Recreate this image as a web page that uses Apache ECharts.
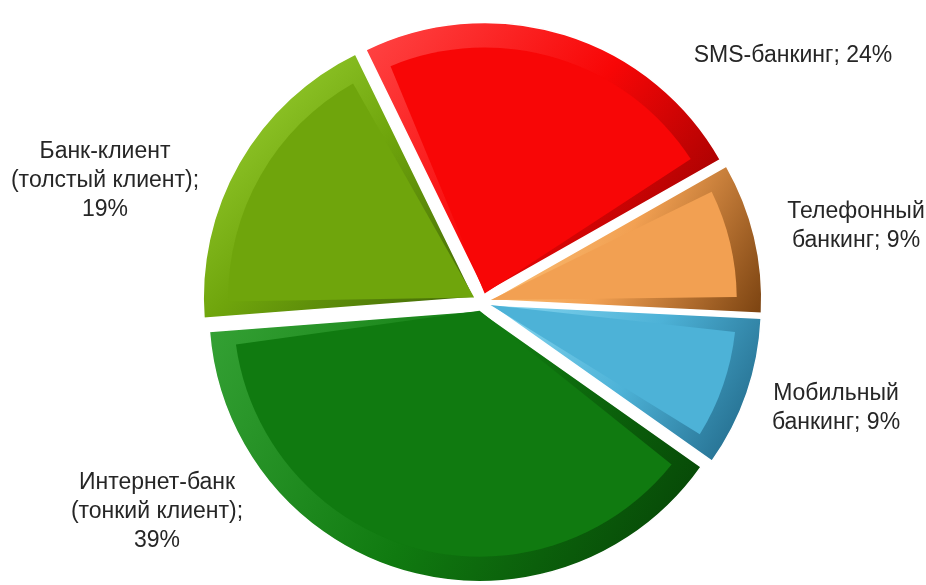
<!DOCTYPE html>
<html>
<head>
<meta charset="utf-8">
<script src="https://cdn.jsdelivr.net/npm/echarts@6/dist/echarts.min.js"></script>
<style>
  html, body { margin: 0; background: #fff; }
  #chart { width: 926px; height: 585px; }
</style>
</head>
<body>
<div id="chart"></div>
<script>
// доли каналов ДБО, %
const names = ['SMS-банкинг', 'Телефонный\nбанкинг', 'Мобильный\nбанкинг', 'Интернет-банк\n(тонкий клиент)', 'Банк-клиент\n(толстый клиент)'];
const values = [24, 9, 9, 39, 19];
const joiners = [' ', ' ', ' ', '\n', '\n'];

// цвета: грань, светлая фаска, тёмная фаска
const faceColors = ['#f80606', '#f2a052', '#4db2d7', '#107a10', '#6fa50c'];
const lightColors = ['#ff4646', '#ffd088', '#86d6f0', '#35a235', '#a2d83a'];
const darkColors = ['#850000', '#7a4210', '#1c6080', '#053f05', '#3f6406'];

// центры подписей
const labelSpots = [[793, 56], [856, 226], [836, 408], [157, 512], [105, 181]];

function bevel(i) {
  return {
    type: 'linear', x: 0, y: 0, x2: 1, y2: 1,
    colorStops: [
      { offset: 0, color: lightColors[i] },
      { offset: 0.5, color: faceColors[i] },
      { offset: 1, color: darkColors[i] }
    ]
  };
}

const chart = echarts.init(document.getElementById('chart'));
const center = [482, 302];

chart.setOption({
  backgroundColor: '#fff',
  animation: false,
  graphic: values.map(function (v, i) {
    return {
      type: 'text',
      x: labelSpots[i][0],
      y: labelSpots[i][1],
      style: {
        text: names[i] + ';' + joiners[i] + v + '%',
        fontFamily: 'Liberation Sans',
        fontSize: 23,
        lineHeight: 29,
        fill: '#262626',
        align: 'center',
        verticalAlign: 'middle'
      }
    };
  }),
  series: [
    {
      type: 'pie',
      center: center,
      radius: 271,
      startAngle: 116,
      selectedMode: 'multiple',
      selectedOffset: 9,
      emphasis: { disabled: true },
      itemStyle: { borderColor: '#fff', borderWidth: 1.5 },
      label: { show: false },
      labelLine: { show: false },
      data: values.map(function (v, i) {
        return { name: names[i], value: v, selected: true, itemStyle: { color: bevel(i) } };
      })
    },
    {
      type: 'pie',
      center: center,
      radius: 246,
      startAngle: 116,
      padAngle: 7,
      selectedMode: 'multiple',
      selectedOffset: 9,
      silent: true,
      z: 3,
      label: { show: false },
      labelLine: { show: false },
      data: values.map(function (v, i) {
        return { name: names[i], value: v, selected: true, itemStyle: { color: faceColors[i] } };
      })
    }
  ]
});
</script>
</body>
</html>
